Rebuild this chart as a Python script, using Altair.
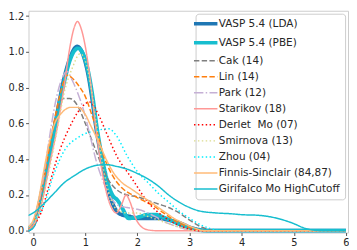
import altair as alt
import pandas as pd

names = ["VASP 5.4 (LDA)", "VASP 5.4 (PBE)", "Cak (14)", "Lin (14)", "Park (12)",
         "Starikov (18)", "Derlet \u00a0Mo (07)", "Smirnova (13)", "Zhou (04)",
         "Finnis-Sinclair (84,87)", "Girifalco Mo HighCutoff"]
colors = ["#1f77b4", "#17becf", "#7f7f7f", "#ff7f0e", "#c5b0d5", "#ff9896",
          "#ff0000", "#dbdb8d", "#00eeff", "#ffbb78", "#17becf"]
dashes = [[1, 0], [1, 0], [5.5, 2.4], [5.5, 2.4], [9.6, 2.4, 1.5, 2.4], [1, 0], [1.5, 2.5],
          [1.5, 2.5], [1.5, 2.5], [1, 0], [1, 0]]
widths = [4, 4, 1.5, 1.5, 1.5, 1.5, 1.5, 1.5, 1.5, 1.5, 1.5]

lda_x = [-0.1, 0, 0.1, 0.2, 0.3, 0.43, 0.6, 0.7, 0.84, 0.95, 1.05, 1.12, 1.2, 1.3, 1.4, 1.5, 1.6, 1.7, 1.85, 2.0, 2.2, 2.4, 2.6, 2.8, 3.0, 3.2, 3.4, 6.0]
lda_y = [0.005, 0.03, 0.13, 0.27, 0.41, 0.61, 0.86, 0.96, 1.03, 0.99, 0.88, 0.76, 0.59, 0.42, 0.28, 0.17, 0.11, 0.09, 0.08, 0.07, 0.07, 0.07, 0.06, 0.045, 0.02, 0.005, 0.0, 0.0]
pbe_x = [-0.1, 0, 0.1, 0.2, 0.3, 0.43, 0.6, 0.7, 0.86, 0.97, 1.07, 1.14, 1.22, 1.32, 1.42, 1.52, 1.62, 1.72, 1.83, 2.0, 2.2, 2.35, 2.5, 2.7, 2.9, 3.1, 3.3, 6.0]
pbe_y = [0.005, 0.03, 0.12, 0.25, 0.4, 0.6, 0.84, 0.95, 1.02, 0.98, 0.87, 0.75, 0.58, 0.41, 0.28, 0.2, 0.17, 0.12, 0.07, 0.075, 0.09, 0.09, 0.075, 0.05, 0.025, 0.008, 0.0, 0.0]
cak_x = [-0.1, 0, 0.1, 0.2, 0.3, 0.45, 0.58, 0.7, 0.85, 1.0, 1.2, 1.43, 1.6, 1.8, 2.0, 2.2, 2.4, 2.6, 2.8, 3.0, 3.2, 3.4, 3.6, 6.0]
cak_y = [0.02, 0.05, 0.13, 0.27, 0.44, 0.66, 0.74, 0.74, 0.7, 0.6, 0.45, 0.29, 0.23, 0.2, 0.19, 0.17, 0.15, 0.13, 0.1, 0.06, 0.025, 0.005, 0.0, 0.0]
lin_x = [-0.1, 0, 0.1, 0.2, 0.3, 0.45, 0.55, 0.65, 0.76, 0.9, 1.0, 1.1, 1.2, 1.35, 1.5, 1.7, 1.9, 2.1, 2.3, 2.5, 2.7, 2.9, 3.1, 3.3, 6.0]
lin_y = [0.02, 0.05, 0.14, 0.28, 0.45, 0.68, 0.8, 0.87, 0.85, 0.8, 0.75, 0.67, 0.58, 0.42, 0.32, 0.24, 0.2, 0.17, 0.14, 0.1, 0.06, 0.03, 0.01, 0.0, 0.0]
park_x = [-0.1, 0, 0.1, 0.2, 0.3, 0.45, 0.55, 0.65, 0.75, 0.88, 1.0, 1.1, 1.2, 1.35, 1.5, 1.65, 1.8, 2.0, 2.2, 2.4, 2.6, 2.8, 3.0, 3.2, 6.0]
park_y = [0.02, 0.05, 0.15, 0.3, 0.5, 0.75, 0.85, 0.89, 0.84, 0.75, 0.64, 0.52, 0.4, 0.27, 0.18, 0.14, 0.13, 0.12, 0.1, 0.07, 0.04, 0.02, 0.005, 0.0, 0.0]
star_x = [-0.1, 0, 0.1, 0.2, 0.3, 0.45, 0.6, 0.7, 0.78, 0.85, 0.92, 1.0, 1.1, 1.2, 1.3, 1.4, 1.5, 1.6, 1.7, 1.78, 1.86, 1.95, 2.05, 2.2, 2.4, 6.0]
star_y = [0.01, 0.03, 0.09, 0.2, 0.35, 0.56, 0.82, 1.02, 1.13, 1.17, 1.13, 1.03, 0.83, 0.58, 0.37, 0.22, 0.13, 0.1, 0.15, 0.2, 0.16, 0.08, 0.03, 0.005, 0.0, 0.0]
der_x = [-0.1, 0, 0.15, 0.3, 0.51, 0.7, 0.85, 1.0, 1.08, 1.25, 1.4, 1.6, 1.9, 2.2, 2.5, 2.8, 3.0, 3.2, 6.0]
der_y = [0.01, 0.03, 0.1, 0.25, 0.45, 0.58, 0.66, 0.71, 0.72, 0.65, 0.55, 0.42, 0.29, 0.16, 0.08, 0.03, 0.01, 0.0, 0.0]
smi_x = [-0.1, 0, 0.1, 0.2, 0.3, 0.45, 0.6, 0.75, 0.9, 1.0, 1.1, 1.2, 1.3, 1.4, 1.5, 1.6, 1.8, 2.0, 2.2, 2.4, 2.6, 2.8, 3.0, 3.2, 6.0]
smi_y = [0.01, 0.03, 0.1, 0.2, 0.33, 0.55, 0.78, 0.91, 0.99, 0.95, 0.82, 0.62, 0.42, 0.27, 0.17, 0.12, 0.1, 0.1, 0.08, 0.06, 0.04, 0.02, 0.005, 0.0, 0.0]
zhou_x = [-0.1, 0, 0.2, 0.4, 0.6, 0.85, 1.2, 1.45, 1.6, 1.8, 2.0, 2.2, 2.4, 2.6, 2.8, 3.0, 3.2, 3.4, 3.6, 6.0]
zhou_y = [0.02, 0.05, 0.14, 0.32, 0.45, 0.52, 0.56, 0.57, 0.53, 0.42, 0.33, 0.27, 0.21, 0.16, 0.11, 0.07, 0.035, 0.012, 0.0, 0.0]
fin_x = [-0.1, 0, 0.1, 0.2, 0.3, 0.4, 0.55, 0.72, 0.85, 1.0, 1.1, 1.25, 1.4, 1.55, 1.7, 1.9, 2.1, 2.3, 2.5, 2.7, 2.9, 3.1, 3.3, 6.0]
fin_y = [0.02, 0.06, 0.17, 0.33, 0.48, 0.59, 0.66, 0.69, 0.69, 0.65, 0.59, 0.5, 0.4, 0.32, 0.27, 0.23, 0.19, 0.15, 0.11, 0.07, 0.04, 0.015, 0.0, 0.0]
gir_x = [-0.1, 0, 0.2, 0.4, 0.6, 0.8, 1.0, 1.2, 1.4, 1.6, 1.8, 2.0, 2.2, 2.4, 2.6, 2.8, 3.0, 3.2, 3.5, 3.8, 4.0, 4.3, 4.6, 4.8, 5.0, 5.2, 5.4, 5.6, 6.0]
gir_y = [0.085, 0.1, 0.15, 0.21, 0.27, 0.31, 0.345, 0.365, 0.37, 0.36, 0.345, 0.32, 0.29, 0.25, 0.2, 0.16, 0.13, 0.11, 0.1, 0.095, 0.09, 0.087, 0.075, 0.06, 0.04, 0.015, 0.003, 0.0, 0.0]

series = [(lda_x, lda_y), (pbe_x, pbe_y), (cak_x, cak_y), (lin_x, lin_y), (park_x, park_y),
          (star_x, star_y), (der_x, der_y), (smi_x, smi_y), (zhou_x, zhou_y),
          (fin_x, fin_y), (gir_x, gir_y)]

rows = []
for i, (name, (xs, ys)) in enumerate(zip(names, series)):
    for x, y in zip(xs, ys):
        rows.append({"series": name, "order": i, "w": widths[i], "x": x, "y": y})
df = pd.DataFrame(rows)

thick_expr = "indexof(['VASP 5.4 (LDA)', 'VASP 5.4 (PBE)'], datum.value) >= 0 ? 3.6 : 1.5"

legend = alt.Legend(
    title=None, orient="top-right", offset=3, padding=5,
    fillColor="white", strokeColor="#cccccc", cornerRadius=3,
    labelFontSize=10.7, labelFont="DejaVu Sans", labelColor="#262626",
    symbolType="stroke", symbolSize=576, labelOffset=8, rowPadding=4.4,
    labelLimit=300, symbolStrokeWidth=alt.ExprRef(expr=thick_expr),
)

chart = alt.Chart(df).mark_line(interpolate="monotone", clip=True).encode(
    x=alt.X("x:Q", scale=alt.Scale(domain=[-0.09, 6.04], nice=False, zero=False),
            axis=alt.Axis(values=[0, 1, 2, 3, 4, 5, 6], format="d", title=None,
                          grid=False, domain=False, tickColor="#555555", tickSize=3,
                          labelFont="DejaVu Sans", labelFontSize=10, labelColor="#262626",
                          labelPadding=2)),
    y=alt.Y("y:Q", scale=alt.Scale(domain=[-0.01, 1.23], nice=False, zero=False),
            axis=alt.Axis(values=[0, 0.2, 0.4, 0.6, 0.8, 1.0, 1.2], format=".1f", title=None,
                          grid=False, domain=False, tickColor="#555555", tickSize=3,
                          labelFont="DejaVu Sans", labelFontSize=10, labelColor="#262626",
                          labelPadding=2)),
    color=alt.Color("series:N", scale=alt.Scale(domain=names, range=colors), legend=legend, sort=names),
    strokeDash=alt.StrokeDash("series:N", scale=alt.Scale(domain=names, range=dashes), legend=legend, sort=names),
    strokeWidth=alt.StrokeWidth("w:Q", scale=None, legend=None),
    order=alt.Order("x:Q"),
    detail="series:N",
).properties(
    width=349, height=242, padding=0,
    autosize=alt.AutoSizeParams(type="fit", contains="padding"),
).configure_view(stroke="#cccccc", strokeWidth=1)

chart.save("out.html", embed_options={"renderer": "svg", "actions": False})
